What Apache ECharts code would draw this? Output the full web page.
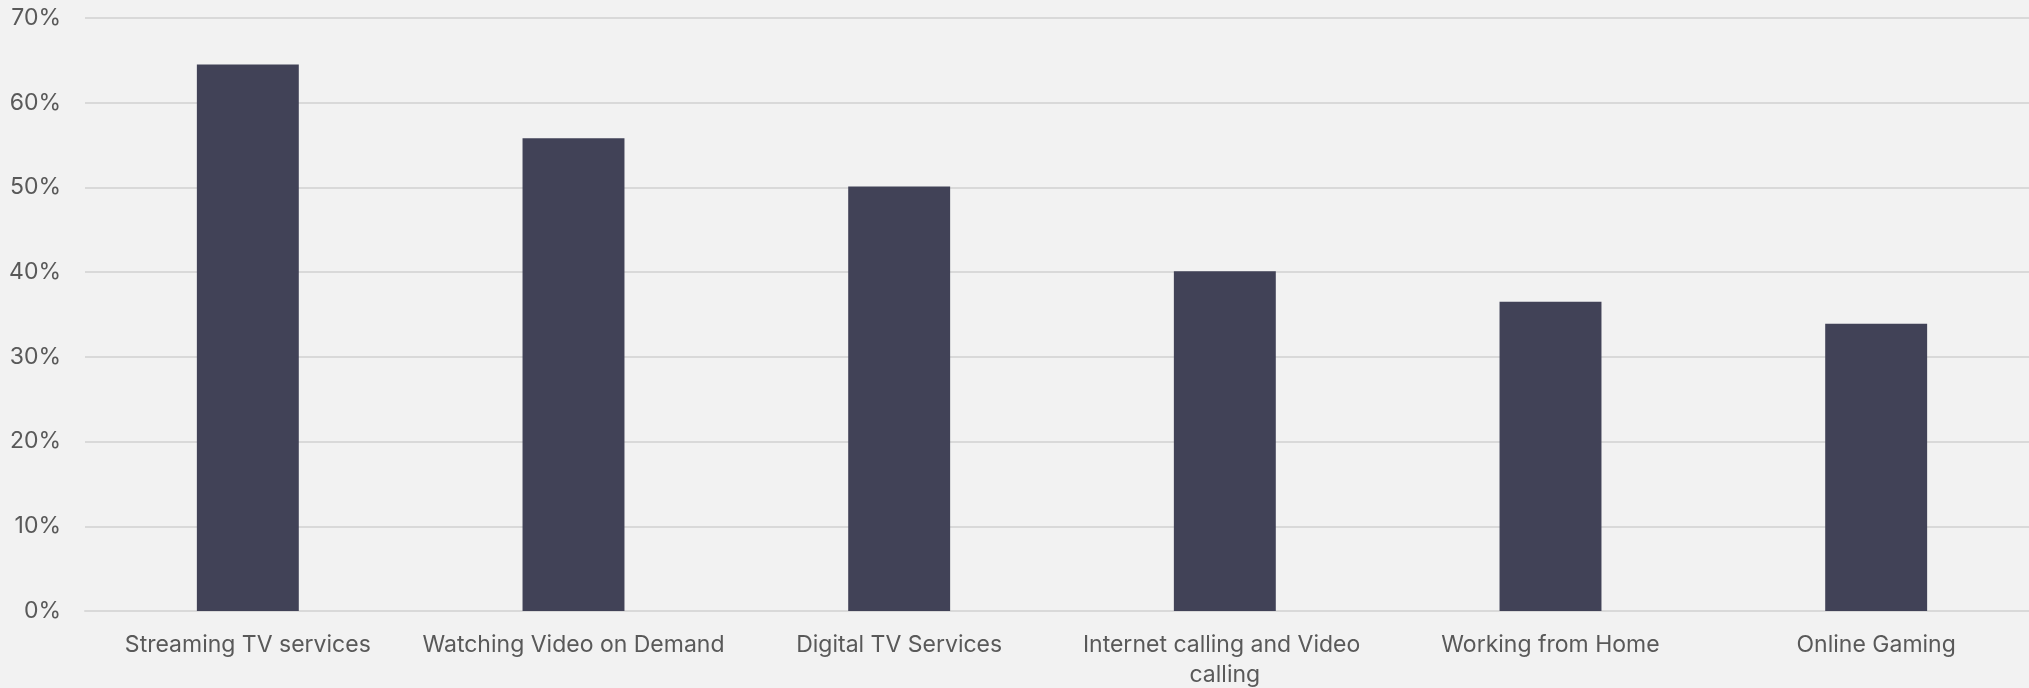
<!DOCTYPE html>
<html>
<head>
<meta charset="utf-8">
<script src="https://cdn.jsdelivr.net/npm/echarts@6/dist/echarts.min.js"></script>
<style>
  html, body { margin: 0; padding: 0; background: #f2f2f2; }
  #chart { width: 2029px; height: 688px; }
</style>
</head>
<body>
<div id="chart"></div>
<script>
// Share of respondents by online activity
const categories = [
  'Streaming TV services',
  'Watching Video on Demand',
  'Digital TV Services',
  'Internet calling and Video calling',
  'Working from Home',
  'Online Gaming'
];
const shares = [64.5, 55.8, 50.1, 40.1, 36.5, 33.9];
const yMin = 0;
const yMax = 70;
const yStep = 10;

const FONT = 'Inter, "Noto Sans", sans-serif';
const TEXT_COLOR = '#595959';
const GRID_COLOR = '#d9d9d9';

const chart = echarts.init(document.getElementById('chart'), null, { renderer: 'canvas' });
chart.setOption({
  backgroundColor: '#f2f2f2',
  animation: false,
  // plot area runs slightly past the right edge of the canvas
  grid: {
    left: 85, width: 1954, top: 18, bottom: 77,
    containLabel: false,
    outerBoundsMode: 'none'
  },
  xAxis: {
    type: 'category',
    data: categories,
    axisTick: { show: false },
    axisLine: { show: true, lineStyle: { color: GRID_COLOR, width: 2 } },
    axisLabel: {
      color: TEXT_COLOR,
      fontFamily: FONT,
      fontSize: 23,
      margin: 19,
      lineHeight: 30,
      width: 310,
      overflow: 'break',
      interval: 0
    }
  },
  yAxis: {
    type: 'value',
    min: yMin,
    max: yMax,
    interval: yStep,
    axisLine: { show: false },
    axisTick: { show: false },
    splitLine: { lineStyle: { color: GRID_COLOR, width: 2 } },
    axisLabel: {
      color: TEXT_COLOR,
      fontFamily: FONT,
      fontSize: 23,
      margin: 24,
      formatter: v => v + '%'
    }
  },
  series: [{
    type: 'bar',
    data: shares,
    barWidth: '31.3%',
    itemStyle: { color: '#414257' }
  }]
});
</script>
</body>
</html>
